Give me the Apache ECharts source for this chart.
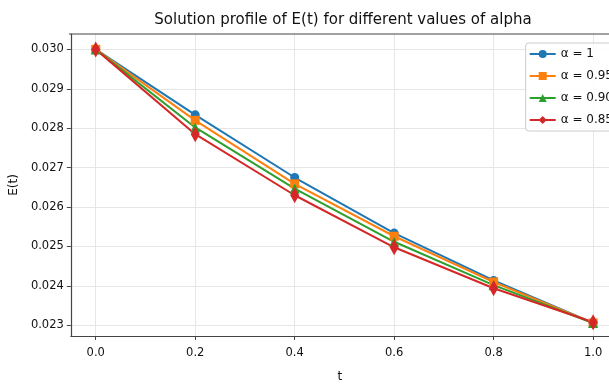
<!DOCTYPE html>
<html>
<head>
<meta charset="utf-8">
<script src="https://cdn.jsdelivr.net/npm/echarts@6/dist/echarts.min.js"></script>
<style>
  html, body { margin: 0; padding: 0; background: #fff; }
  #chart { width: 609px; height: 388px; }
</style>
</head>
<body>
<div id="chart"></div>
<script>
// values
var tValues = [0.0, 0.2, 0.4, 0.6, 0.8, 1.0];
var alpha100 = [0.03000, 0.02834, 0.02675, 0.02534, 0.02414, 0.02306];
var alpha095 = [0.03000, 0.02820, 0.02659, 0.02526, 0.02410, 0.02306];
var alpha090 = [0.03000, 0.02802, 0.02647, 0.02512, 0.02402, 0.02306];
var alpha085 = [0.03000, 0.02785, 0.02630, 0.02498, 0.02394, 0.02308];
var xTicks = [0.0, 0.2, 0.4, 0.6, 0.8, 1.0];
var yTicks = [0.023, 0.024, 0.025, 0.026, 0.027, 0.028, 0.029, 0.030];

var font = "DejaVu Sans, sans-serif";

function pairs(ys) {
    return tValues.map(function (t, i) { return [t, ys[i]]; });
}

function makeSeries(name, ys, color, symbol, size) {
    return {
        name: name,
        type: "line",
        data: pairs(ys),
        symbol: symbol,
        symbolSize: size,
        showSymbol: true,
        lineStyle: { color: color, width: 2 },
        itemStyle: { color: color },
        emphasis: { disabled: true },
    };
}

var chart = echarts.init(document.getElementById("chart"));

chart.setOption({
    animation: false,
    backgroundColor: "#fff",
    title: {
        text: "Solution profile of E(t) for different values of alpha",
        left: 338,
        textAlign: "center",
        top: 8,
        textStyle: { fontFamily: font, fontSize: 15, fontWeight: "normal", color: "#111" },
    },
    legend: {
        orient: "vertical",
        right: -18,
        top: 43,
        itemWidth: 26,
        itemHeight: 10,
        itemGap: 10,
        padding: [5, 14, 5, 3],
        backgroundColor: "rgba(255,255,255,0.85)",
        borderColor: "#ccc",
        borderWidth: 1,
        borderRadius: 3,
        textStyle: { fontFamily: font, fontSize: 12, color: "#111" },
        data: ["α = 1", "α = 0.95", "α = 0.90", "α = 0.85"],
    },
    grid: { left: 69, right: 0, top: 34, bottom: 43, containLabel: false },
    xAxis: {
        type: "value",
        min: -0.0501,
        max: 1.032,
        name: "t",
        nameLocation: "middle",
        nameGap: 35,
        nameTextStyle: { fontFamily: font, fontSize: 12, color: "#111" },
        axisLine: { show: true, onZero: false, lineStyle: { color: "#444", width: 1.2 } },
        axisTick: { show: true, length: 4, customValues: xTicks, lineStyle: { color: "#444" } },
        axisLabel: {
            customValues: xTicks,
            fontFamily: font, fontSize: 11.5, color: "#111", margin: 11,
            formatter: function (v) { return v.toFixed(1); },
        },
        splitLine: { show: true, lineStyle: { color: "#e6e6e6", width: 1 } },
    },
    yAxis: {
        type: "value",
        min: 0.02273,
        max: 0.03039,
        name: "E(t)",
        nameLocation: "middle",
        nameGap: 42,
        nameRotate: 90,
        nameTextStyle: { fontFamily: font, fontSize: 12, color: "#111" },
        axisLine: { show: true, onZero: false, lineStyle: { color: "#444", width: 1.2 } },
        axisTick: { show: true, length: 4, customValues: yTicks, lineStyle: { color: "#444" } },
        axisLabel: {
            customValues: yTicks,
            fontFamily: font, fontSize: 11.5, color: "#111", margin: 7,
            formatter: function (v) { return v.toFixed(3); },
        },
        splitLine: { show: true, lineStyle: { color: "#e6e6e6", width: 1 } },
    },
    graphic: [{
        type: "line",
        shape: { x1: 69, y1: 34, x2: 609, y2: 34 },
        style: { stroke: "#444", lineWidth: 1.2 },
        z: 10,
    }],
    series: [
        makeSeries("α = 1", alpha100, "#1f77b4", "circle", 9),
        makeSeries("α = 0.95", alpha095, "#ff7f0e", "rect", 9),
        makeSeries("α = 0.90", alpha090, "#2ca02c", "triangle", 10),
        makeSeries("α = 0.85", alpha085, "#d62728", "diamond", [9, 16]),
    ],
});
</script>
</body>
</html>
